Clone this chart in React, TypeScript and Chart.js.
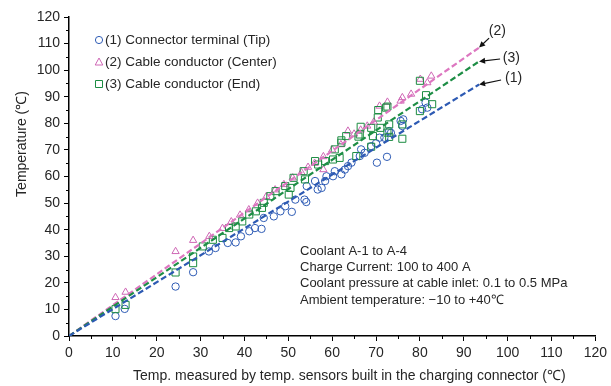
import React, { useEffect, useRef } from "react";
import { Chart, registerables } from "chart.js";

Chart.register(...registerables);

// ---- Data ----
const xTickValues = [0, 10, 20, 30, 40, 50, 60, 70, 80, 90, 100, 110, 120];
const yTickValues = [0, 10, 20, 30, 40, 50, 60, 70, 80, 90, 100, 110, 120];

const seriesNames = [
  "(1) Connector terminal (Tip)",
  "(2) Cable conductor (Center)",
  "(3) Cable conductor (End)",
];

const xTitle = "Temp. measured by temp. sensors built in the charging connector (\u2103)";
const yTitle = "Temperature (\u2103)";

// (1) Connector terminal (Tip)
const tipPoints: [number, number][] = [
  [10.6, 7.5], [12.7, 10.2], [24.3, 18.6], [28.3, 24], [31.9, 31.8], [33.4, 33.1],
  [36.2, 35], [38, 35.2], [39.2, 37.5], [41.1, 39.4], [42.4, 40.6], [43.9, 40.3],
  [44.4, 44.4], [46.7, 45], [48.2, 46.9], [49.3, 48.8], [50.8, 46.7], [51.6, 51.3],
  [53.7, 51.3], [54.1, 50.4], [54.2, 56.4], [56.1, 58.3], [56.7, 55.1], [57.6, 55.7],
  [58.4, 58.3], [58.7, 60.1], [60.2, 60.1], [60.6, 62], [62.1, 60.8], [62.9, 62.6],
  [63.6, 63.9], [64.4, 65.2], [66.3, 67.7], [66.6, 70.2], [67.4, 68.9], [68.9, 71.4],
  [70, 72.5], [70.2, 65.2], [70.8, 74.6], [71.9, 74.6], [72.5, 67.4], [73, 77.1],
  [73.4, 76.4], [75.6, 80.9], [76, 79], [76.2, 81.5], [80.5, 85.3], [81.3, 87.8],
  [81.7, 85.9],
];

// (2) Cable conductor (Center)
const centerPoints: [number, number][] = [
  [10.6, 14.5], [12.9, 16.5], [24.3, 31.8], [28.3, 36], [32, 37.5], [35, 40.5],
  [37, 43], [39, 45.5], [41, 47.5], [43, 50], [45, 52.5], [47, 55], [49, 57],
  [51, 59.5], [53, 61.5], [54.5, 63.5], [56, 65], [58, 62.6], [58, 67.5], [60, 70],
  [62, 72], [63.6, 77.1], [65, 76], [66.5, 77.5], [68, 79], [69.5, 80.5],
  [70.8, 86.5], [72.6, 88], [75.6, 88.4], [76, 89.7], [78, 91], [80.1, 96.6],
  [81.7, 95.3], [82.6, 97.8],
];

// (3) Cable conductor (End)
const endPoints: [number, number][] = [
  [10.6, 10.1], [12.9, 11.7], [24.3, 23.9], [28.3, 27.4], [28.3, 29.9], [30.5, 33.7],
  [32.8, 36.2], [35, 36.9], [36.5, 40.6], [38, 41.2], [39.5, 43.1], [41.1, 45.7],
  [42.6, 46.9], [44, 48.2], [44.4, 50.1], [45.9, 52.6], [47.1, 54.5], [49.3, 56.4],
  [50.1, 53.2], [50.5, 55.7], [51.2, 59.5], [53.5, 62], [53.8, 58.9], [56.1, 65.8],
  [56.8, 64.5], [58.4, 65.8], [60.2, 66.4], [60.6, 70.2], [61.7, 67], [62.1, 72.7],
  [62.1, 73.6], [63.2, 75.2], [65.5, 67.7], [66, 75], [66.3, 75.8], [66.5, 78.7],
  [68.9, 78.3], [68.9, 71.2], [69.3, 75.2], [70.4, 82.2], [70.5, 85], [71, 78.3],
  [72.3, 85.9], [72.6, 86.3], [72.6, 76.5], [73, 79.6], [73, 74.9], [76, 74.2],
  [76, 79.6], [80, 84.6], [80, 96], [81.4, 90.6], [82.8, 87.2],
];

// Fitted trend lines (start, end)
const tipLine: [number, number][] = [[0, 0], [93.5, 94.6]];
const centerLine: [number, number][] = [[0, 0], [93.5, 108.5]];
const endLine: [number, number][] = [[0, 0], [93.5, 103.3]];

const lineLabels = ["(1)", "(2)", "(3)"];

const noteLines = [
  "Coolant A-1 to A-4",
  "Charge Current: 100 to 400 A",
  "Coolant pressure at cable inlet: 0.1 to 0.5 MPa",
  "Ambient temperature: \u221210 to +40\u2103",
];

// ---- Styles ----
const BLUE = "#2f5cb5";
const PINK = "#cf67b5";
const GREEN = "#1c8c42";
const BLUE_LINE = "#2d5ab3";
const PINK_LINE = "#dd77c0";
const GREEN_LINE = "#1e8e46";
const TEXT = "#262626";
const FONT = "'Liberation Sans', Arial, sans-serif";

const toXY = (arr: [number, number][]) => arr.map(([x, y]) => ({ x, y }));

const overlayPlugin = {
  id: "overlay",
  afterDraw(chart: any) {
    const ctx = chart.ctx as CanvasRenderingContext2D;
    const xs = chart.scales.x;
    const ys = chart.scales.y;
    const area = chart.chartArea;
    ctx.save();
    // minor ticks
    ctx.strokeStyle = "#000";
    ctx.lineWidth = 1;
    ctx.beginPath();
    for (let v = 5; v < 120; v += 10) {
      const px = Math.round(xs.getPixelForValue(v)) + 0.5;
      ctx.moveTo(px, area.bottom);
      ctx.lineTo(px, area.bottom + 3);
      const py = Math.round(ys.getPixelForValue(v)) + 0.5;
      ctx.moveTo(area.left, py);
      ctx.lineTo(area.left - 3, py);
    }
    ctx.stroke();

    // axis titles
    ctx.fillStyle = TEXT;
    ctx.font = `14px ${FONT}`;
    ctx.textBaseline = "middle";
    ctx.textAlign = "left";
    ctx.fillText(xTitle, 133, 376);
    ctx.save();
    ctx.translate(22, 144);
    ctx.rotate(-Math.PI / 2);
    ctx.textAlign = "center";
    ctx.fillText(yTitle, 0, 0);
    ctx.restore();

    // legend
    ctx.font = `13.5px ${FONT}`;
    ctx.fillStyle = TEXT;
    ctx.textBaseline = "middle";
    ctx.textAlign = "left";
    const legendStyles = [
      { c: BLUE, s: "circle" },
      { c: PINK, s: "triangle" },
      { c: GREEN, s: "rect" },
    ];
    const lx = 99;
    const ly0 = 40;
    const lgap = 22;
    legendStyles.forEach((st, i) => {
      const y = ly0 + i * lgap;
      ctx.strokeStyle = st.c;
      ctx.lineWidth = 1;
      ctx.beginPath();
      if (st.s === "circle") {
        ctx.arc(lx, y, 3.6, 0, Math.PI * 2);
      } else if (st.s === "triangle") {
        ctx.moveTo(lx, y - 4);
        ctx.lineTo(lx + 3.8, y + 3);
        ctx.lineTo(lx - 3.8, y + 3);
        ctx.closePath();
      } else {
        ctx.rect(lx - 3.5, y - 3.5, 7, 7);
      }
      ctx.stroke();
      ctx.fillStyle = TEXT;
      ctx.fillText(seriesNames[i], 105, y + 0.5);
    });

    // notes
    ctx.font = `13px ${FONT}`;
    noteLines.forEach((t, i) => {
      ctx.fillText(t, 300, 251 + i * 16.4);
    });

    // arrows and line labels
    const lineEnds = [tipLine[1], centerLine[1], endLine[1]];
    const offsets = [
      { tx: 22, ty: -4.5, lx: 26, ly: -6 }, // (1)
      { tx: 10, ty: -9.5, lx: 9.7, ly: -16 }, // (2)
      { tx: 21, ty: -2.4, lx: 23.7, ly: -3 }, // (3)
    ];
    lineEnds.forEach((p, i) => {
      const ex = xs.getPixelForValue(p[0]);
      const ey = ys.getPixelForValue(p[1]);
      const o = offsets[i];
      const sx = ex + o.tx;
      const sy = ey + o.ty;
      const ang = Math.atan2(ey - sy, ex - sx);
      const hl = 6;
      const hw = 3;
      ctx.strokeStyle = "#111";
      ctx.fillStyle = "#111";
      ctx.lineWidth = 1.2;
      ctx.beginPath();
      ctx.moveTo(sx, sy);
      ctx.lineTo(ex - Math.cos(ang) * hl * 0.8, ey - Math.sin(ang) * hl * 0.8);
      ctx.stroke();
      ctx.beginPath();
      ctx.moveTo(ex, ey);
      ctx.lineTo(ex - Math.cos(ang) * hl - Math.sin(ang) * hw, ey - Math.sin(ang) * hl + Math.cos(ang) * hw);
      ctx.lineTo(ex - Math.cos(ang) * hl + Math.sin(ang) * hw, ey - Math.sin(ang) * hl - Math.cos(ang) * hw);
      ctx.closePath();
      ctx.fill();
      ctx.font = `14px ${FONT}`;
      ctx.fillStyle = TEXT;
      ctx.textAlign = "left";
      ctx.textBaseline = "middle";
      ctx.fillText(lineLabels[i], ex + o.lx, ey + o.ly);
    });
    ctx.restore();
  },
};

export default function App() {
  const canvasRef = useRef<HTMLCanvasElement | null>(null);

  useEffect(() => {
    const canvas = canvasRef.current;
    if (!canvas) return;
    const lineDs = (label: string, pts: [number, number][], color: string) =>
      ({
        type: "line",
        label,
        data: toXY(pts),
        borderColor: color,
        borderWidth: 2.2,
        borderDash: [6, 3],
        pointRadius: 0,
        fill: false,
        order: 0,
      } as any);
    const chart = new Chart(canvas, {
      type: "scatter",
      data: {
        datasets: [
          lineDs("tipLine", tipLine, BLUE_LINE),
          lineDs("endLine", endLine, GREEN_LINE),
          lineDs("centerLine", centerLine, PINK_LINE),
          {
            label: seriesNames[2],
            data: toXY(endPoints),
            pointStyle: "rect",
            pointRadius: 5,
            borderColor: GREEN,
            backgroundColor: "rgba(0,0,0,0)",
            borderWidth: 1,
            order: 1,
          },
          {
            label: seriesNames[1],
            data: toXY(centerPoints),
            pointStyle: "triangle",
            pointRadius: 4.2,
            borderColor: PINK,
            backgroundColor: "rgba(0,0,0,0)",
            borderWidth: 1,
            order: 2,
          },
          {
            label: seriesNames[0],
            data: toXY(tipPoints),
            pointStyle: "circle",
            pointRadius: 3.7,
            borderColor: BLUE,
            backgroundColor: "rgba(0,0,0,0)",
            borderWidth: 1,
            order: 3,
          },
        ],
      },
      options: {
        responsive: false,
        animation: false,
        devicePixelRatio: 1,
        layout: { padding: { left: 0, right: 11, top: 17, bottom: 0 } },
        plugins: {
          legend: { display: false },
          tooltip: { enabled: false },
        },
        scales: {
          x: {
            type: "linear",
            min: 0,
            max: 120,
            afterBuildTicks: (s: any) => {
              s.ticks = xTickValues.map((v) => ({ value: v }));
            },
            afterFit: (s: any) => {
              s.height = 50;
            },
            grid: {
              display: true,
              drawOnChartArea: false,
              drawTicks: true,
              tickLength: 5,
              color: "#000",
              lineWidth: 1,
            },
            border: { display: true, color: "#000", width: 1.5 },
            ticks: {
              color: TEXT,
              font: { family: FONT, size: 14 },
              padding: 4,
              maxRotation: 0,
            },
            title: { display: false },
          },
          y: {
            type: "linear",
            min: 0,
            max: 120,
            afterBuildTicks: (s: any) => {
              s.ticks = yTickValues.map((v) => ({ value: v }));
            },
            afterFit: (s: any) => {
              s.width = 69;
            },
            grid: {
              display: true,
              drawOnChartArea: false,
              drawTicks: true,
              tickLength: 5,
              color: "#000",
              lineWidth: 1,
            },
            border: { display: true, color: "#000", width: 1.5 },
            ticks: {
              color: TEXT,
              font: { family: FONT, size: 14 },
              padding: 4,
            },
            title: { display: false },
          },
        },
      },
      plugins: [overlayPlugin],
    });
    return () => chart.destroy();
  }, []);

  return (
    <div style={{ position: "fixed", left: 0, top: 0, width: 611, height: 386, background: "#fff" }}>
      <canvas ref={canvasRef} width={611} height={386} style={{ display: "block", width: 611, height: 386 }} />
    </div>
  );
}
